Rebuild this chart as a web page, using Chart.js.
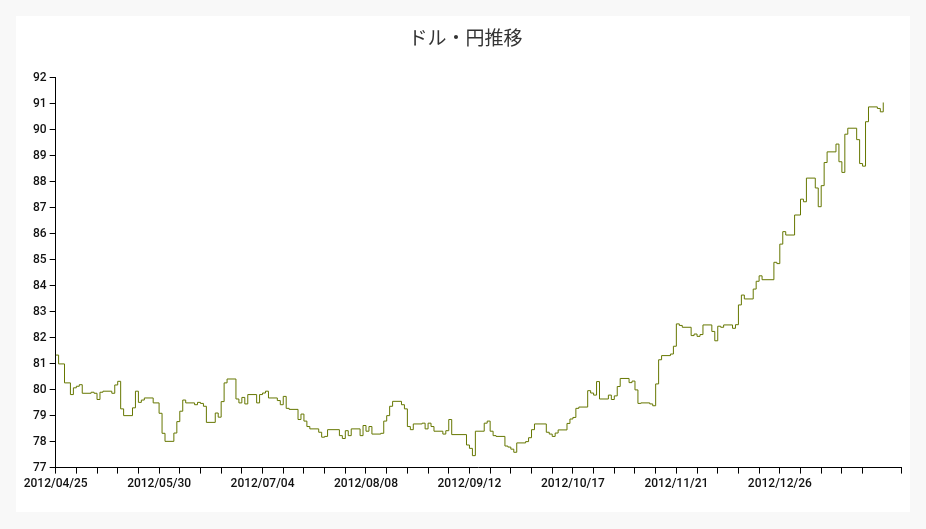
<!DOCTYPE html>
<html>
<head>
<meta charset="utf-8">
<script src="https://cdn.jsdelivr.net/npm/chart.js@4/dist/chart.umd.min.js"></script>
<style>
  html, body { margin: 0; padding: 0; background: #f8f8f8; }
  #wrap { position: absolute; left: 16px; top: 16px; width: 894px; height: 496px; background: #fff; }
</style>
</head>
<body>
<div id="wrap"><canvas id="fxChart"></canvas></div>
<script>
// 2012/04/25 からの経過日数と、その日に変わったレート
const days = [0, 1, 3, 5, 6, 7, 8, 9, 12, 13, 14, 15, 16, 19, 20, 21, 22, 23, 26, 27, 28, 29, 30, 33, 35, 36, 37,
    40, 41, 42, 43, 44, 47, 48, 49, 50, 51, 54, 55, 56, 57, 58, 61, 62, 63, 64, 65, 68, 69, 70, 71, 72, 75, 76, 77,
    78, 79, 82, 83, 84, 85, 86, 89, 90, 91, 92, 96, 97, 98, 99, 100, 103, 104, 105, 106, 107, 110, 111, 112, 113,
    114, 117, 118, 119, 120, 121, 124, 125, 126, 127, 128, 131, 132, 133, 134, 139, 140, 141, 142, 145, 146, 147,
    148, 149, 152, 153, 154, 155, 156, 159, 160, 161, 162, 166, 167, 168, 169, 170, 173, 174, 175, 176, 177, 180,
    181, 182, 183, 184, 187, 188, 189, 190, 191, 194, 195, 196, 197, 198, 201, 202, 203, 204, 205, 208, 209, 210,
    211, 212, 215, 216, 217, 218, 219, 222, 223, 224, 225, 226, 229, 230, 231, 232, 233, 236, 237, 238, 239, 243,
    244, 245, 246, 247, 250, 252, 253, 254, 257, 258, 259, 260, 261, 264, 265, 266, 267, 268, 271, 272, 273, 274,
    275, 278, 279, 280];
const rates = [81.33, 80.99, 80.26, 79.81, 80.07, 80.13, 80.19, 79.86, 79.9, 79.86, 79.62, 79.9, 79.94, 79.86,
    80.18, 80.32, 79.26, 79.0, 79.3, 79.94, 79.51, 79.6, 79.68, 79.49, 79.09, 78.32, 78.01,
    78.33, 78.77, 79.17, 79.6, 79.49, 79.42, 79.51, 79.47, 79.36, 78.74, 79.1, 78.94, 79.54, 80.26, 80.41,
    79.64, 79.49, 79.7, 79.45, 79.81, 79.49, 79.81, 79.87, 79.94, 79.68, 79.58, 79.42, 79.74,
    79.28, 79.24, 78.85, 79.06, 78.79, 78.58, 78.49, 78.36, 78.17, 78.2, 78.46, 78.23, 78.12, 78.42, 78.23, 78.49,
    78.23, 78.62, 78.4, 78.58, 78.29, 78.32, 78.79, 79.0, 79.36,
    79.55, 79.42, 79.26, 78.58, 78.46, 78.68, 78.71, 78.49, 78.71, 78.58, 78.4, 78.29, 78.42, 78.85, 78.27,
    77.87, 77.74, 77.46, 78.4, 78.71, 78.79, 78.4,
    78.23, 78.2, 77.83, 77.79, 77.71, 77.59, 77.95, 78.0, 78.15, 78.46, 78.68, 78.36, 78.29, 78.2, 78.33, 78.45,
    78.7, 78.87, 78.93, 79.28, 79.33, 79.96,
    79.87, 79.79, 80.31, 79.64, 79.79, 79.62, 79.76, 80.12, 80.43, 80.27, 80.33, 79.99, 79.47, 79.49, 79.45, 79.38,
    80.22, 81.15, 81.31, 81.37, 81.67, 82.53,
    82.47, 82.4, 82.08, 82.14, 82.05, 82.12, 82.49, 82.24, 81.88, 82.44, 82.4, 82.49, 82.36, 82.5, 83.26, 83.64,
    83.49, 83.87, 84.17, 84.38, 84.23, 84.9,
    84.85, 85.6, 86.08, 85.95, 86.72, 87.33, 87.23, 88.14, 87.76, 87.04, 87.85, 88.74, 89.15, 89.45, 88.77, 88.36,
    89.83, 90.06, 89.62, 88.7, 88.6, 90.31,
    90.88, 90.82, 90.69, 91.05];
const startDate = new Date(2012, 3, 25);
const labelEvery = 35;
const axisEnd = 286;
const yMin = 77, yMax = 92;

function dayLabel(d) {
    const dt = new Date(startDate.getTime());
    dt.setDate(dt.getDate() + d);
    const mm = String(dt.getMonth() + 1).padStart(2, '0');
    const dd = String(dt.getDate()).padStart(2, '0');
    return dt.getFullYear() + '/' + mm + '/' + dd;
}

const points = days.map((d, i) => ({ x: d, y: rates[i] }));

new Chart(document.getElementById('fxChart'), {
    type: 'line',
    data: {
        datasets: [{
            label: 'ドル・円',
            data: points,
            stepped: true,
            borderColor: '#667700',
            borderWidth: 1,
            pointRadius: 0,
            fill: false
        }]
    },
    options: {
        responsive: true,
        maintainAspectRatio: false,
        animation: false,
        layout: { padding: { left: 14, right: 9, top: 6, bottom: 18 } },
        plugins: {
            legend: { display: false },
            tooltip: { enabled: false },
            title: {
                display: true,
                text: 'ドル・円推移',
                color: '#333',
                font: { family: "'Noto Sans CJK JP'", size: 19, weight: 'normal' },
                padding: { top: 4, bottom: 29 }
            }
        },
        scales: {
            x: {
                type: 'linear',
                min: 0,
                max: axisEnd,
                grid: { display: true, drawOnChartArea: false, drawTicks: true, tickLength: 6, color: '#000' },
                border: { color: '#000' },
                ticks: {
                    stepSize: 7,
                    autoSkip: false,
                    maxRotation: 0,
                    color: '#111',
                    font: { family: 'Roboto', size: 12, weight: '500' },
                    callback: v => (v % labelEvery === 0 ? dayLabel(v) : '')
                }
            },
            y: {
                min: yMin,
                max: yMax,
                grid: { display: true, drawOnChartArea: false, drawTicks: true, tickLength: 6, color: '#000' },
                border: { color: '#000' },
                ticks: {
                    stepSize: 1,
                    color: '#111',
                    font: { family: 'Roboto', size: 12, weight: '500' }
                }
            }
        }
    }
});
</script>
</body>
</html>
